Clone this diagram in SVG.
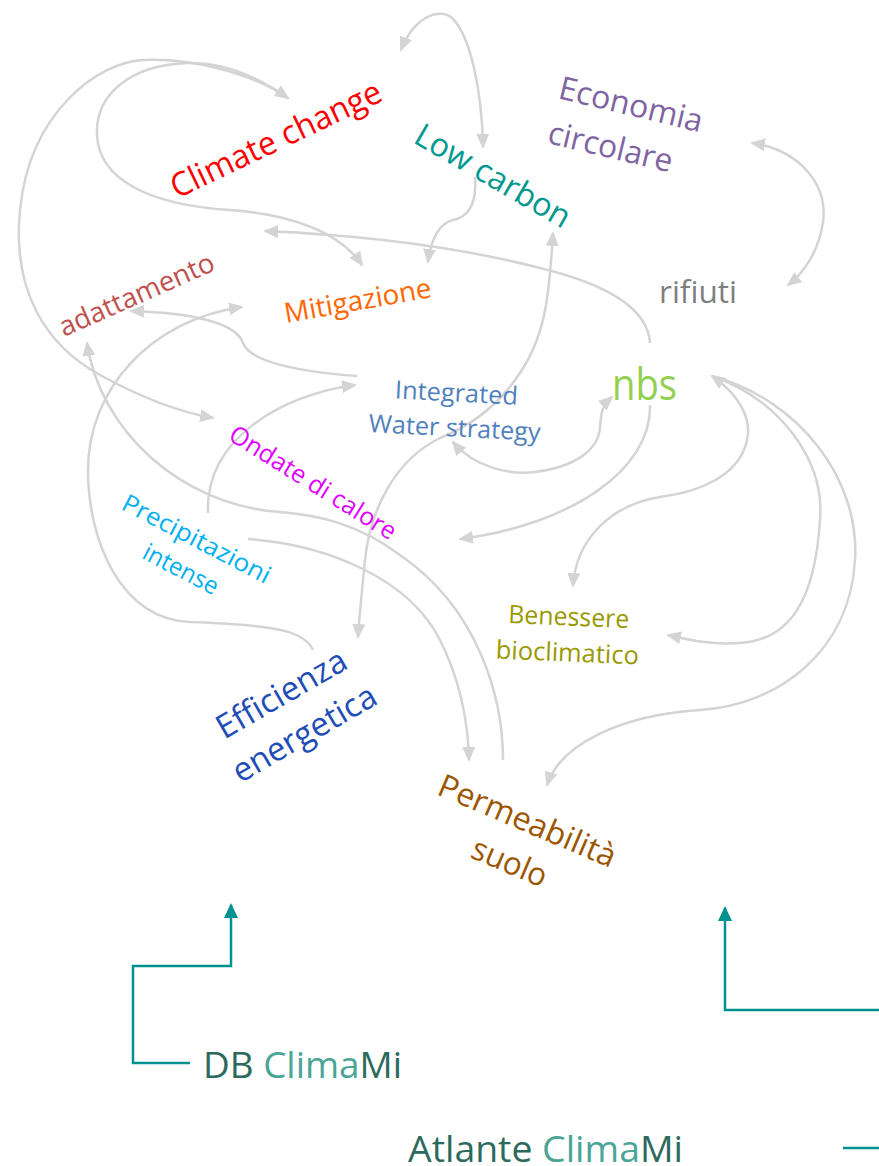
<svg xmlns="http://www.w3.org/2000/svg" width="879" height="1166" viewBox="0 0 879 1166">
<defs>
<style>
.t{font-family:"Open Sans","Noto Sans","Liberation Sans",sans-serif;font-variant-ligatures:none;}
.c{fill:none;stroke:#d4d4d4;stroke-width:2.5;}
.tl{fill:none;stroke:#00928f;stroke-width:2.5;}
</style>
<marker id="ag" viewBox="0 0 15 13" refX="13" refY="6.5" markerWidth="15" markerHeight="13" markerUnits="userSpaceOnUse" orient="auto-start-reverse"><path d="M0,0 L15,6.5 L0,13 Z" fill="#d4d4d4"/></marker>
<marker id="at" viewBox="0 0 15 14" refX="13" refY="7" markerWidth="15" markerHeight="14" markerUnits="userSpaceOnUse" orient="auto-start-reverse"><path d="M0,0 L15,7 L0,14 Z" fill="#00928f"/></marker>
</defs>
<rect width="879" height="1166" fill="#ffffff"/>

<g id="connectors">
<path class="c" d="M401,50 C415,15 440,8 452,18 C470,35 482,90 483,147" marker-start="url(#ag)" marker-end="url(#ag)"/>
<path class="c" d="M288,98 C250,72 190,58 143,60 C100,62 30,110 20,210 C12,290 45,345 100,375 C140,397 180,412 213,418" marker-start="url(#ag)" marker-end="url(#ag)"/>
<path class="c" d="M288,98 C255,75 220,62 187,63 C130,65 95,95 97,135 C99,180 150,205 230,210 C290,214 340,232 362,265" marker-end="url(#ag)"/>
<path class="c" d="M650,343 C648,310 610,285 540,268 C470,250 380,236 265,231" marker-end="url(#ag)"/>
<path class="c" d="M475,177 C477,205 468,217 453,220 C440,223 431,238 428,262" marker-end="url(#ag)"/>
<path class="c" d="M553,233 C549,300 545,340 515,380 C490,415 460,430 440,438 C395,460 370,510 365,560 C361,600 359,620 358,637" marker-start="url(#ag)" marker-end="url(#ag)"/>
<path class="c" d="M453,442 C475,468 510,475 535,472 C575,467 598,450 600,428 C601,410 603,405 612,397" marker-start="url(#ag)" marker-end="url(#ag)"/>
<path class="c" d="M650,405 C652,470 570,525 460,539" marker-end="url(#ag)"/>
<path class="c" d="M712,376 C740,395 752,420 747,440 C740,475 700,492 660,497 C610,505 576,540 573,586" marker-start="url(#ag)" marker-end="url(#ag)"/>
<path class="c" d="M712,376 C780,400 825,460 820,520 C815,600 790,640 740,643 C710,645 690,640 668,635" marker-end="url(#ag)"/>
<path class="c" d="M712,376 C800,400 860,480 855,560 C850,650 780,705 700,710 C620,715 560,745 547,785" marker-end="url(#ag)"/>
<path class="c" d="M752,143 C800,150 828,185 823,222 C819,250 805,272 788,285" marker-start="url(#ag)" marker-end="url(#ag)"/>
<path class="c" d="M357,376 C300,372 250,362 243,343 C237,325 200,313 131,311" marker-end="url(#ag)"/>
<path class="c" d="M313,650 C305,632 280,625 190,622 C120,619 88,540 88,470 C88,390 150,320 242,307" marker-end="url(#ag)"/>
<path class="c" d="M503,760 C503,700 480,610 400,555 C360,525 320,515 280,512 C180,505 100,430 87,343" marker-end="url(#ag)"/>
<path class="c" d="M248,539 C330,545 410,580 440,640 C460,680 468,720 469,760" marker-end="url(#ag)"/>
<path class="c" d="M208,513 C205,440 280,395 355,385" marker-end="url(#ag)"/>
<path class="tl" d="M190,1063 H133 V966 H231 V905" marker-end="url(#at)"/>
<path class="tl" d="M879,1010 H725 V908" marker-end="url(#at)"/>
<path class="tl" d="M843,1148 H879"/>
</g>

<g id="climate-change"><text class="t" transform="translate(177,199) rotate(-25.5)" font-size="33" fill="#ff0000" textLength="230" lengthAdjust="spacingAndGlyphs">Climate change</text></g>
<g id="low-carbon"><text class="t" transform="translate(412,142) rotate(30)" font-size="32.5" fill="#00978f" textLength="174" lengthAdjust="spacingAndGlyphs">Low carbon</text></g>
<g id="economia-circolare" transform="translate(557,98) rotate(13.5)">
<text class="t" x="0" y="0" font-size="32" fill="#8064a2" textLength="147" lengthAdjust="spacingAndGlyphs">Economia</text>
<text class="t" x="0" y="46" font-size="32" fill="#8064a2" textLength="127" lengthAdjust="spacingAndGlyphs">circolare</text>
</g>
<g id="rifiuti"><text class="t" x="659" y="303" font-size="31.5" fill="#7f7f7f" textLength="78" lengthAdjust="spacingAndGlyphs">rifiuti</text></g>
<g id="mitigazione"><text class="t" transform="translate(286,323) rotate(-10)" font-size="27.7" fill="#ff6600" textLength="149" lengthAdjust="spacingAndGlyphs">Mitigazione</text></g>
<g id="adattamento"><text class="t" transform="translate(64,337) rotate(-23.8)" font-size="27.6" fill="#c0504d" textLength="167" lengthAdjust="spacingAndGlyphs">adattamento</text></g>
<g id="integrated-water-strategy" transform="translate(456,401.5) rotate(3)">
<text class="t" x="0" y="0" text-anchor="middle" font-size="25" fill="#4f81bd" textLength="123" lengthAdjust="spacingAndGlyphs">Integrated</text>
<text class="t" x="0" y="35" text-anchor="middle" font-size="25" fill="#4f81bd" textLength="172" lengthAdjust="spacingAndGlyphs">Water strategy</text>
</g>
<g id="nbs"><text class="t" x="612" y="400" font-size="43" fill="#92d050" textLength="65" lengthAdjust="spacingAndGlyphs">nbs</text></g>
<g id="ondate-di-calore"><text class="t" transform="translate(227,439) rotate(32)" font-size="25" fill="#e000ff" textLength="192" lengthAdjust="spacingAndGlyphs">Ondate di calore</text></g>
<g id="precipitazioni-intense" transform="translate(192.7,546.4) rotate(27.5)">
<text class="t" x="0" y="0" text-anchor="middle" font-size="24.5" fill="#00b0f0" textLength="164" lengthAdjust="spacingAndGlyphs">Precipitazioni</text>
<text class="t" x="0" y="34" text-anchor="middle" font-size="24.5" fill="#00b0f0" textLength="82" lengthAdjust="spacingAndGlyphs">intense</text>
</g>
<g id="efficienza-energetica" transform="translate(287,703.6) rotate(-30)">
<text class="t" x="0" y="0" text-anchor="middle" font-size="33" fill="#1e4db7" textLength="145" lengthAdjust="spacingAndGlyphs">Efficienza</text>
<text class="t" x="0" y="45.7" text-anchor="middle" font-size="33" fill="#1e4db7" textLength="161" lengthAdjust="spacingAndGlyphs">energetica</text>
</g>
<g id="benessere-bioclimatico" transform="translate(568.5,625.5) rotate(2.4)">
<text class="t" x="0" y="0" text-anchor="middle" font-size="25.5" fill="#999900" textLength="121" lengthAdjust="spacingAndGlyphs">Benessere</text>
<text class="t" x="0" y="36" text-anchor="middle" font-size="25.5" fill="#999900" textLength="143" lengthAdjust="spacingAndGlyphs">bioclimatico</text>
</g>
<g id="permeabilita-suolo" transform="translate(523,831) rotate(23)">
<text class="t" x="0" y="0" text-anchor="middle" font-size="32" fill="#9c5500" textLength="190" lengthAdjust="spacingAndGlyphs">Permeabilità</text>
<text class="t" x="0" y="45" text-anchor="middle" font-size="32" fill="#9c5500" textLength="79" lengthAdjust="spacingAndGlyphs">suolo</text>
</g>
<g id="db-climami"><text class="t" x="203" y="1078" font-size="37" textLength="199" lengthAdjust="spacingAndGlyphs"><tspan fill="#2b6a5c">DB </tspan><tspan fill="#4aa597">Clima</tspan><tspan fill="#2b6a5c">Mi</tspan></text></g>
<g id="atlante-climami"><text class="t" x="408" y="1162" font-size="37" textLength="275" lengthAdjust="spacingAndGlyphs"><tspan fill="#2b6a5c">Atlante </tspan><tspan fill="#4aa597">Clima</tspan><tspan fill="#2b6a5c">Mi</tspan></text></g>
</svg>
